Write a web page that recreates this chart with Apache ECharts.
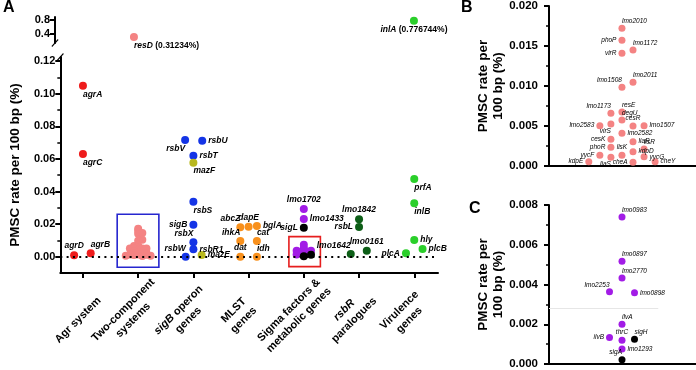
<!DOCTYPE html>
<html>
<head>
<meta charset="utf-8">
<script src="https://cdn.jsdelivr.net/npm/echarts@6/dist/echarts.min.js"></script>
<style>
  html, body { margin: 0; padding: 0; background: #fff; }
  #chart { width: 696px; height: 370px; }
</style>
</head>
<body>
<div id="chart"></div>
<script>
// ---- panel A: gene categories ----
const groupLabels = ['Agr system', 'Two-component\nsystems', '{i|sigB} operon\ngenes', 'MLST\ngenes',
  'Sigma factors &\nmetabolic genes', '{i|rsbR}\nparalogues', 'Virulence\ngenes'];
const groupTicks = [0, 1, 2, 3, 4, 5, 6];

const agrGenes = ['agrA', 'agrC', 'agrD', 'agrB'];
const agrRates = [0.1049, 0.063, 0.0009, 0.0021];
const agrJitter = [0, 0, -0.16, 0.14];

const sigBGenes = ['rsbV', 'rsbU', 'rsbT', 'rsbS', 'sigB', 'rsbX', 'rsbR1', 'rsbW'];
const sigBRates = [0.0716, 0.0712, 0.062, 0.0337, 0.0196, 0.0088, 0.0045, 0.0];
const sigBJitter = [-0.15, 0.16, 0, 0, 0, 0, 0, -0.14];

const mazGenes = ['mazF', 'mazE'];
const mazRates = [0.0577, 0.001];
const mazJitter = [0, 0.15];

const mlstGenes = ['abcZ', 'dapE', 'bglA', 'ihkA', 'cat', 'dat', 'idh'];
const mlstRates = [0.018, 0.0184, 0.0188, 0.0096, 0.0096, 0.0, 0.0];
const mlstJitter = [-0.15, 0, 0.15, -0.15, 0.15, -0.15, 0.15];

const sigmaGenes = ['lmo1702', 'lmo1433'];
const sigmaRates = [0.0293, 0.0231];
const sigLGenes = ['sigL'];
const sigLRates = [0.0178];

const rsbRGenes = ['lmo1842', 'rsbL', 'lmo1642', 'lmo0161'];
const rsbRRates = [0.0229, 0.0182, 0.0017, 0.0037];
const rsbRJitter = [0, 0, -0.15, 0.14];

const virGenes = ['prfA', 'inlB', 'hly', 'plcB', 'plcA'];
const virRates = [0.0477, 0.0328, 0.0102, 0.0047, 0.0021];
const virJitter = [0, 0, 0, 0.15, -0.15];

// values above the axis break
const bigGenes = ['resD', 'inlA'];
const bigRates = [0.31234, 0.776744];
const bigGroups = [1, 6];
const bigColors = ['#F48383', '#2BCF2B'];

// ---- panel B: two-component systems ----
const tcsGenes = ['lmo2010', 'phoP', 'virR', 'lmo1172', 'lmo2011', 'lmo1508', 'resE', 'lmo1173', 'degU', 'cesR',
  'lmo2583', 'virS', 'lmo1507', 'lmo2582', 'cesK', 'liaR', 'phoR', 'lisR', 'lisK', 'kdpD',
  'yycF', 'yycG', 'liaS', 'cheA', 'kdpE', 'cheY'];
const tcsRates = [0.01721, 0.01571, 0.01409, 0.0145, 0.01046, 0.00984, 0.00675, 0.00659, 0.00575, 0.005,
  0.00504, 0.00525, 0.00504, 0.00409, 0.00334, 0.00304, 0.00234, 0.00213, 0.00134, 0.00179,
  0.00134, 0.00116, 0.00109, 0.00046, 0.00054, 0.00054];
const tcsCols = [0, 0, 0, 1, 1, 0, 0, -1, 0, 1, -2, -1, 2, 0, -1, 1, -1, 2, 0, 1, -2, 2, -1, 1, -3, 3];

// ---- panel C: sigma factors & metabolic genes ----
const metGenes = ['lmo0983', 'lmo0897', 'lmo2770', 'lmo2253', 'lmo0898', 'ilvA', 'ilvB', 'thrC', 'lmo1293'];
const metRates = [0.00739, 0.00517, 0.00433, 0.00363, 0.00358, 0.002, 0.00133, 0.0012, 0.00075];
const metCols = [0, 0, 0, -1, 1, 0, -1, 0, 0];
const sigGenes = ['sigH', 'sigA'];
const sigRates = [0.00125, 0.00022];
const sigCols = [1, 0];

// label placement per gene (style only)
const labelAt = {
  agrA: 'BR', agrC: 'BR', agrD: 'T', agrB: 'TR', resD: 'BR', inlA: 'B',
  rsbV: 'BL', rsbU: 'R', rsbT: 'R', mazF: 'BR', rsbS: 'BR', sigB: 'L', rsbX: 'TL', rsbR1: 'R', rsbW: 'TL', mazE: 'R',
  abcZ: 'TL', dapE: 'T', bglA: 'R', ihkA: 'TL', cat: 'TR', dat: 'T', idh: 'TR',
  lmo1702: 'T', lmo1433: 'R', sigL: 'L',
  lmo1842: 'T', rsbL: 'L', lmo1642: 'TL', lmo0161: 'T',
  prfA: 'BR', inlB: 'BR', hly: 'R', plcB: 'R', plcA: 'L',
  lmo2010: 'TR', phoP: 'L', virR: 'L', lmo1172: 'TR', lmo2011: 'TR', lmo1508: 'TL', resE: 'TR', lmo1173: 'TL',
  degU: 'TR', cesR: 'T', lmo2583: 'L', virS: 'BL', lmo1507: 'R', lmo2582: 'R', cesK: 'L', liaR: 'R', phoR: 'L',
  lisR: 'TR', lisK: 'T', kdpD: 'R', yycF: 'L', yycG: 'R', liaS: 'BL', cheA: 'L', kdpE: 'L', cheY: 'R',
  lmo0983: 'TR', lmo0897: 'TR', lmo2770: 'TR', lmo2253: 'TL', lmo0898: 'R', ilvA: 'TR', ilvB: 'L', thrC: 'T',
  sigH: 'TR', lmo1293: 'R', sigA: 'TL'
};

const places = {
  R: { position: 'right', distance: 2 },
  L: { position: 'left', distance: 2 },
  T: { position: 'top', distance: 1 },
  B: { position: 'bottom', distance: 1 },
  TR: { position: 'top', align: 'left', distance: 0 },
  TL: { position: 'top', align: 'right', distance: 0 },
  BR: { position: 'bottom', align: 'left', distance: 0 },
  BL: { position: 'bottom', align: 'right', distance: 0 }
};

const FONT = '"Liberation Sans", Arial, sans-serif';
const labelA = { fontSize: 8.5, fontWeight: 'bold', fontStyle: 'italic', color: '#000' };
const labelBC = { fontSize: 6.5, fontStyle: 'italic', color: '#000' };

function dots(names, xs, rates, color, xi, yi, size, font) {
  return {
    type: 'scatter',
    xAxisIndex: xi,
    yAxisIndex: yi,
    symbolSize: size,
    itemStyle: { color: color, opacity: 1 },
    label: Object.assign({ show: !!font, formatter: '{b}' }, font || {}),
    data: names.map((n, i) => ({
      name: n,
      value: [xs[i], rates[i]],
      label: font ? places[labelAt[n]] : undefined
    }))
  };
}

const at = (g, jit) => jit.map(j => g + j);

const breakMark = 'path://M0,10 L9,0 L10,1.5 L1,11.5 Z';

function minorAxis(grid, min, max, vals) {
  return {
    type: 'value', gridIndex: grid, min: min, max: max, position: 'left',
    axisLine: { show: false, onZero: false },
    axisTick: { show: true, length: 3, customValues: vals, lineStyle: { color: '#000', width: 1.5 } },
    axisLabel: { show: false }, splitLine: { show: false }
  };
}

function mainAxis(grid, min, max, vals, digits, name, gap, margin) {
  return {
    type: 'value', gridIndex: grid, min: min, max: max, position: 'left',
    name: name, nameLocation: 'middle', nameGap: gap,
    nameTextStyle: { fontSize: 13.5, fontWeight: 'bold', color: '#000', lineHeight: 15, fontFamily: FONT },
    axisLine: { show: true, onZero: false, lineStyle: { color: '#000', width: 2 } },
    axisTick: { show: true, length: 5, customValues: vals, lineStyle: { color: '#000', width: 2 } },
    axisLabel: { customValues: vals, formatter: v => v.toFixed(digits), fontSize: 11.5, fontWeight: 'bold', color: '#000', margin: margin },
    splitLine: { show: false }
  };
}

const chart = echarts.init(document.getElementById('chart'));

const upperY = mainAxis(0, 0.14, 0.88, [0.4, 0.8], 1, '', 0, 5);
upperY.axisLabel.fontSize = 11;
upperY.axisLine.symbol = [breakMark, 'none'];
upperY.axisLine.symbolSize = [7, 8];

const lowerY = mainAxis(1, -0.01, 0.1225, [0, 0.02, 0.04, 0.06, 0.08, 0.1, 0.12], 2, 'PMSC rate per 100 bp (%)', 33, 5);
lowerY.axisLabel.fontSize = 11;
lowerY.axisLine.symbol = ['none', breakMark];
lowerY.axisLine.symbolSize = [7, 8];

const tcsA = dots(tcsGenes, tcsCols.map(c => 1 + c * 0.075), tcsRates, '#F48383', 1, 1, 8, null);
tcsA.markArea = {
  silent: true,
  label: { show: false },
  itemStyle: { color: 'rgba(0,0,0,0)', borderColor: '#2626CF', borderWidth: 1.6 },
  data: [[{ coord: [0.62, -0.0065] }, { coord: [1.375, 0.026] }]]
};

const metA = dots(metGenes, metCols.map(c => 4 + c * 0.13), metRates, '#A21CE6', 1, 1, 8, null);
metA.markArea = {
  silent: true,
  label: { show: false },
  itemStyle: { color: 'rgba(0,0,0,0)', borderColor: '#E61E1E', borderWidth: 1.6 },
  data: [[{ coord: [3.73, -0.0061] }, { coord: [4.3, 0.0123] }]]
};

const agrA = dots(agrGenes, at(0, agrJitter), agrRates, '#EE1C1C', 1, 1, 8, labelA);
agrA.markLine = {
  silent: true, symbol: 'none', label: { show: false },
  lineStyle: { color: '#000', width: 2, type: [2, 4.3] },
  data: [{ yAxis: 0 }]
};

const metC = dots(metGenes, metCols, metRates, '#A21CE6', 3, 5, 7, labelBC);
metC.markLine = {
  silent: true, symbol: 'none', label: { show: false },
  lineStyle: { color: '#E6E6E6', width: 1, type: 'solid' },
  data: [[{ coord: [-5.84, 0.0028] }, { coord: [2.9, 0.0028] }]]
};

const bigSeries = bigGenes.map((g, i) => {
  const s = dots([g], [bigGroups[i]], [bigRates[i]], bigColors[i], 0, 0, 8, labelA);
  s.label.formatter = p => '{i|' + p.name + '} (' + p.value[1] + '%)';
  s.label.fontStyle = 'normal';
  s.label.rich = { i: { fontStyle: 'italic', fontWeight: 'bold', fontSize: 8.5, color: '#000' } };
  return s;
});

const option = {
  animation: false,
  backgroundColor: '#fff',
  textStyle: { fontFamily: FONT },
  title: [
    { text: 'A', left: 3, top: 0, padding: 0, textStyle: { fontSize: 16, fontWeight: 'bold', color: '#000' } },
    { text: 'B', left: 461, top: 0, padding: 0, textStyle: { fontSize: 16, fontWeight: 'bold', color: '#000' } },
    { text: 'C', left: 469, top: 201, padding: 0, textStyle: { fontSize: 16, fontWeight: 'bold', color: '#000' } }
  ],
  grid: [
    { left: 55, top: 17, width: 383, height: 26 },
    { left: 55, top: 57, width: 383, height: 216 },
    { left: 549, top: 6, right: 0, height: 160 },
    { left: 549, top: 205, right: 0, height: 160 }
  ],
  xAxis: [
    { type: 'value', gridIndex: 0, min: -0.41, max: 6.43, show: false },
    {
      type: 'value', gridIndex: 1, min: -0.41, max: 6.43,
      axisLine: { show: true, onZero: false, lineStyle: { color: '#000', width: 2 } },
      axisTick: { show: true, length: 5, customValues: groupTicks, lineStyle: { color: '#000', width: 2 } },
      axisLabel: {
        customValues: groupTicks,
        formatter: v => groupLabels[v],
        rotate: 45, align: 'center', verticalAlign: 'bottom', margin: 52,
        fontSize: 11, fontWeight: 'bold', color: '#000', lineHeight: 14,
        rich: { i: { fontStyle: 'italic', fontWeight: 'bold', fontSize: 11, lineHeight: 14, color: '#000' } }
      },
      splitLine: { show: false }
    },
    {
      type: 'value', gridIndex: 2, min: -6.6, max: 6.7,
      axisLine: { show: true, onZero: false, lineStyle: { color: '#000', width: 2 } },
      axisTick: { show: false }, axisLabel: { show: false }, splitLine: { show: false }
    },
    {
      type: 'value', gridIndex: 3, min: -5.84, max: 5.92,
      axisLine: { show: true, onZero: false, lineStyle: { color: '#000', width: 2 } },
      axisTick: { show: false }, axisLabel: { show: false }, splitLine: { show: false }
    }
  ],
  yAxis: [
    upperY,
    lowerY,
    minorAxis(1, -0.01, 0.1225, [0.01, 0.03, 0.05, 0.07, 0.09, 0.11]),
    mainAxis(2, 0, 0.02, [0, 0.005, 0.01, 0.015, 0.02], 3, 'PMSC rate per\n100 bp (%)', 28, 11),
    minorAxis(2, 0, 0.02, [0.0025, 0.0075, 0.0125, 0.0175]),
    mainAxis(3, 0, 0.008, [0, 0.002, 0.004, 0.006, 0.008], 3, 'PMSC rate per\n100 bp (%)', 28, 11),
    minorAxis(3, 0, 0.008, [0.001, 0.003, 0.005, 0.007])
  ],
  series: [
    ...bigSeries,
    agrA,
    tcsA,
    dots(sigBGenes, at(2, sigBJitter), sigBRates, '#1434E6', 1, 1, 8, labelA),
    dots(mazGenes, at(2, mazJitter), mazRates, '#B8B81E', 1, 1, 8, labelA),
    dots(mlstGenes, at(3, mlstJitter), mlstRates, '#F8901C', 1, 1, 8, labelA),
    dots(sigmaGenes, at(4, [0, 0]), sigmaRates, '#A21CE6', 1, 1, 8, labelA),
    metA,
    dots(sigLGenes, at(4, [0]), sigLRates, '#000', 1, 1, 8, labelA),
    dots(sigGenes, sigCols.map(c => 4 + c * 0.13), sigRates, '#000', 1, 1, 8, null),
    dots(rsbRGenes, at(5, rsbRJitter), rsbRRates, '#0D5E17', 1, 1, 8, labelA),
    dots(virGenes, at(6, virJitter), virRates, '#2BCF2B', 1, 1, 8, labelA),
    dots(tcsGenes, tcsCols, tcsRates, '#F48383', 2, 3, 7, labelBC),
    metC,
    dots(sigGenes, sigCols, sigRates, '#000', 3, 5, 7, labelBC)
  ]
};

chart.setOption(option);
</script>
</body>
</html>
